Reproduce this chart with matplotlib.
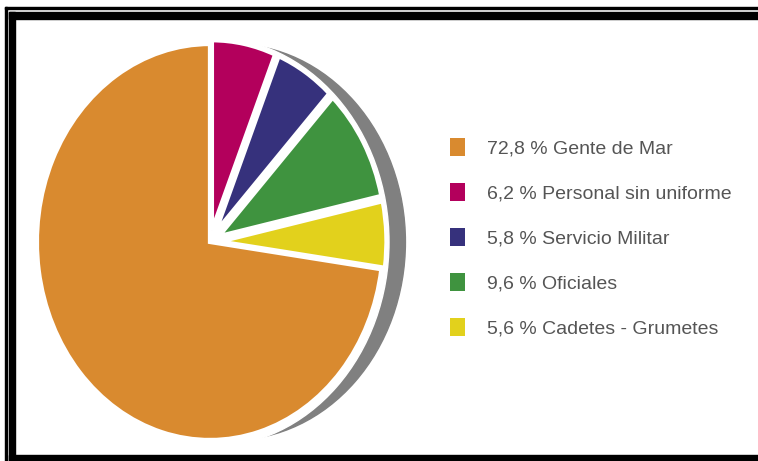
import matplotlib
matplotlib.use('Agg')
import matplotlib.pyplot as plt
from matplotlib.patches import Ellipse, Rectangle

plt.rcParams['font.family'] = ['Liberation Sans', 'DejaVu Sans']

categorias = ['Gente de Mar', 'Personal sin uniforme', 'Servicio Militar', 'Oficiales', 'Cadetes - Grumetes']
porcentajes = [72.8, 6.2, 5.8, 9.6, 5.6]
colores = ['#D98A2F', '#B3005C', '#36317C', '#3F933F', '#E2D11C']

etiquetas = ['{} % {}'.format(str(p).replace('.', ','), c) for p, c in zip(porcentajes, categorias)]

fig = plt.figure(figsize=(7.58, 4.61), dpi=100)
fig.patch.set_facecolor('white')

# marco
marco = fig.add_axes([0, 0, 1, 1])
marco.set_xlim(0, 758)
marco.set_ylim(461, 0)
marco.axis('off')
marco.add_patch(Rectangle((5, 7), 760, 2, color='black'))
marco.add_patch(Rectangle((5, 7), 2, 460, color='black'))
marco.add_patch(Rectangle((9, 12), 760, 7, color='black'))
marco.add_patch(Rectangle((9, 12), 6, 460, color='black'))
marco.add_patch(Rectangle((9, 455), 760, 10, color='black'))

# torta (eliptica)
ax = fig.add_axes([20/758, 6/461, 410/758, 425/461])
ax.add_patch(Ellipse((0.13, 0), 2.0, 2.0, color='#808080', zorder=0))
ax.add_patch(Ellipse((0, 0), 2.07, 2.07, color='white', zorder=0.5))

inicio = 90 + 360 * porcentajes[0] / 100
wedges, _ = ax.pie(porcentajes, colors=colores, startangle=inicio, counterclock=False,
                   explode=[0, 0.06, 0.06, 0.06, 0.06],
                   wedgeprops=dict(edgecolor='white', linewidth=3))
for w in wedges[1:]:
    w.set_radius(0.96)
ax.set_aspect('auto')
ax.set_xlim(-1.098, 1.272)
ax.set_ylim(-1.076, 1.071)
ax.axis('off')

leg = fig.legend(wedges, etiquetas, loc='upper left', bbox_to_anchor=(432/758, 1 - 120/461),
                 frameon=False, fontsize=14, handlelength=0.82, handleheight=1.1,
                 handletextpad=1.1, labelspacing=1.29, labelcolor='#555555')
for h in leg.legend_handles:
    h.set_edgecolor('none')

fig.savefig('out.png', dpi=100)
